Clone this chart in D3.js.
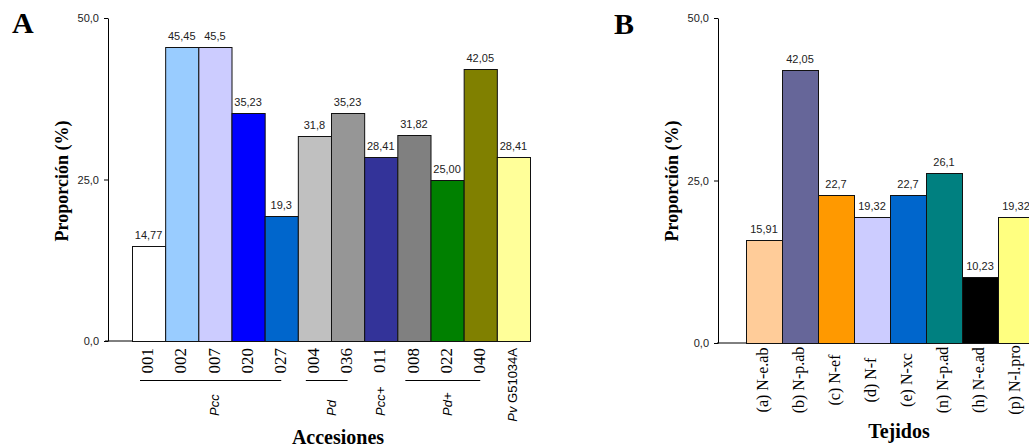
<!DOCTYPE html>
<html>
<head>
<meta charset="utf-8">
<script src="https://cdn.jsdelivr.net/npm/d3@7"></script>
<style>
    body { margin: 0; background: #fff; }
    .tick text { font-family: Arial, "Liberation Sans", sans-serif; font-size: 11px; fill: #222; }
    .valtext { font-family: Arial, "Liberation Sans", sans-serif; font-size: 11px; fill: #222; text-anchor: middle; }
    .axistext { font-family: "Times New Roman", "Liberation Serif", serif; font-weight: bold; font-size: 18px; fill: #000; }
    .cattext { font-family: "Times New Roman", "Liberation Serif", serif; fill: #000; }
    .grptext { font-family: Arial, "Liberation Sans", sans-serif; font-style: italic; font-size: 13px; fill: #000; }
</style>
</head>
<body>
<div id="chart"></div>
<script>
// chart A data
var accesiones = ["001", "002", "007", "020", "027", "004", "036", "011", "008", "022", "040", "G51034A"];
var valoresA = [14.77, 45.45, 45.5, 35.23, 19.3, 31.8, 35.23, 28.41, 31.82, 25.00, 42.05, 28.41];
var etiquetasA = ["14,77", "45,45", "45,5", "35,23", "19,3", "31,8", "35,23", "28,41", "31,82", "25,00", "42,05", "28,41"];
var coloresA = ["#ffffff", "#99ccff", "#ccccff", "#0000ff", "#0066cc", "#c0c0c0", "#969696", "#333399", "#808080", "#008000", "#808000", "#ffff99"];
var gruposA = [
    {label: "Pcc", first: "001", last: "027", line: true},
    {label: "Pd", first: "004", last: "036", line: true},
    {label: "Pcc+", first: "011", last: "011", line: false},
    {label: "Pd+", first: "008", last: "040", line: true}
];

// chart B data
var tejidos = ["(a) N-e.ab", "(b) N-p.ab", "(c) N-ef", "(d) N-f", "(e) N-xc", "(n) N-p.ad", "(h) N-e.ad", "(p) N-l.pro"];
var valoresB = [15.91, 42.05, 22.7, 19.32, 22.7, 26.1, 10.23, 19.32];
var etiquetasB = ["15,91", "42,05", "22,7", "19,32", "22,7", "26,1", "10,23", "19,32"];
var coloresB = ["#ffcc99", "#666699", "#ff9900", "#ccccff", "#0066cc", "#008080", "#000000", "#ffff80"];

var yTicks = [0, 25, 50];
var yTickLabels = ["0,0", "25,0", "50,0"];

var svg = d3.select("#chart").append("svg")
    .attr("width", 1029)
    .attr("height", 447);

function load_charts() {
    load_chart1();
    load_chart2();
};

function draw_axes(x0, x1, y, yLineStart) {
    // y axis
    svg.append("g")
        .attr("transform", "translate(" + x0 + ",0)")
        .call(d3.axisLeft(y).tickValues(yTicks)
            .tickFormat(function (d, i) { return yTickLabels[i]; })
            .tickSize(4).tickPadding(5).tickSizeOuter(0))
        .call(function (g) { g.selectAll("line, path").attr("stroke", "#000"); });

    // x axis line
    svg.append("line")
        .attr("x1", yLineStart).attr("x2", x1)
        .attr("y1", y(0)).attr("y2", y(0))
        .attr("stroke", "#000");
}

function draw_bars(x, y, cats, vals, labs, cols) {
    svg.selectAll(null)
        .data(cats)
        .enter().append("rect")
        .attr("x", function (d) { return x(d) + 0.5; })
        .attr("width", x.bandwidth())
        .attr("y", function (d, i) { return Math.round(y(vals[i])) + 0.5; })
        .attr("height", function (d, i) { return Math.round(y(0)) - Math.round(y(vals[i])); })
        .style("fill", function (d, i) { return cols[i]; })
        .style("stroke", "#111")
        .style("stroke-width", 1);

    svg.selectAll(null)
        .data(cats)
        .enter().append("text")
        .attr("class", "valtext")
        .attr("x", function (d) { return x(d) + x.bandwidth() / 2; })
        .attr("y", function (d, i) { return y(vals[i]) - 7; })
        .text(function (d, i) { return labs[i]; });
}

function load_chart1() {
    var x = d3.scaleBand()
        .domain(accesiones)
        .range([132, 530])
        .padding(0);
    var y = d3.scaleLinear()
        .domain([0, 50])
        .range([341, 18]);

    draw_axes(108, 530, y, 105);
    draw_bars(x, y, accesiones, valoresA, etiquetasA, coloresA);

    // category labels
    accesiones.forEach(function (d, i) {
        var cx = x(d) + x.bandwidth() / 2 - 1;
        var t = svg.append("text")
            .attr("transform", "translate(" + cx + ",348) rotate(-90)")
            .attr("text-anchor", "end")
            .attr("dy", "0.33em");
        if (i == accesiones.length - 1) {
            t.attr("class", "grptext").style("font-style", "normal");
            t.append("tspan").style("font-style", "italic").text("Pv");
            t.append("tspan").text(" " + d);
        } else {
            t.attr("class", "cattext").style("font-size", "17px").text(d);
        }
    });

    // groups
    gruposA.forEach(function (g) {
        var xa = x(g.first), xb = x(g.last) + x.bandwidth() / 2;
        if (g.line) {
            svg.append("line")
                .attr("x1", xa + 8).attr("x2", xb)
                .attr("y1", 380.5).attr("y2", 380.5)
                .attr("stroke", "#000");
        }
        var cx = (x(g.first) + x(g.last) + x.bandwidth()) / 2;
        svg.append("text")
            .attr("class", "grptext")
            .attr("transform", "translate(" + cx + ",416) rotate(-90)")
            .attr("dy", "0.35em")
            .text(g.label);
    });

    svg.append("text")
        .attr("class", "axistext")
        .attr("transform", "translate(68,181) rotate(-90)")
        .attr("text-anchor", "middle")
        .text("Proporción (%)");

    svg.append("text")
        .attr("class", "axistext")
        .attr("x", 338).attr("y", 444)
        .attr("text-anchor", "middle")
        .style("font-size", "20px")
        .text("Accesiones");

    svg.append("text")
        .attr("class", "axistext")
        .attr("x", 12).attr("y", 33)
        .style("font-size", "30px")
        .text("A");
}

function load_chart2() {
    var x = d3.scaleBand()
        .domain(tejidos)
        .range([746, 1034])
        .padding(0);
    var y = d3.scaleLinear()
        .domain([0, 50])
        .range([343, 18]);

    draw_axes(718, 1034, y, 717);
    draw_bars(x, y, tejidos, valoresB, etiquetasB, coloresB);

    svg.selectAll(null)
        .data(tejidos)
        .enter().append("text")
        .attr("class", "cattext")
        .style("font-size", "16px")
        .attr("text-anchor", "middle")
        .attr("dy", "0.33em")
        .attr("transform", function (d) {
            return "translate(" + (x(d) + x.bandwidth() / 2 - 1) + ",380) rotate(-90)";
        })
        .text(function (d) { return d; });

    svg.append("text")
        .attr("class", "axistext")
        .attr("transform", "translate(678,181) rotate(-90)")
        .attr("text-anchor", "middle")
        .text("Proporción (%)");

    svg.append("text")
        .attr("class", "axistext")
        .attr("x", 899).attr("y", 438)
        .attr("text-anchor", "middle")
        .style("font-size", "20px")
        .text("Tejidos");

    svg.append("text")
        .attr("class", "axistext")
        .attr("x", 614).attr("y", 34)
        .style("font-size", "30px")
        .text("B");
}

load_charts();
</script>
</body>
</html>
